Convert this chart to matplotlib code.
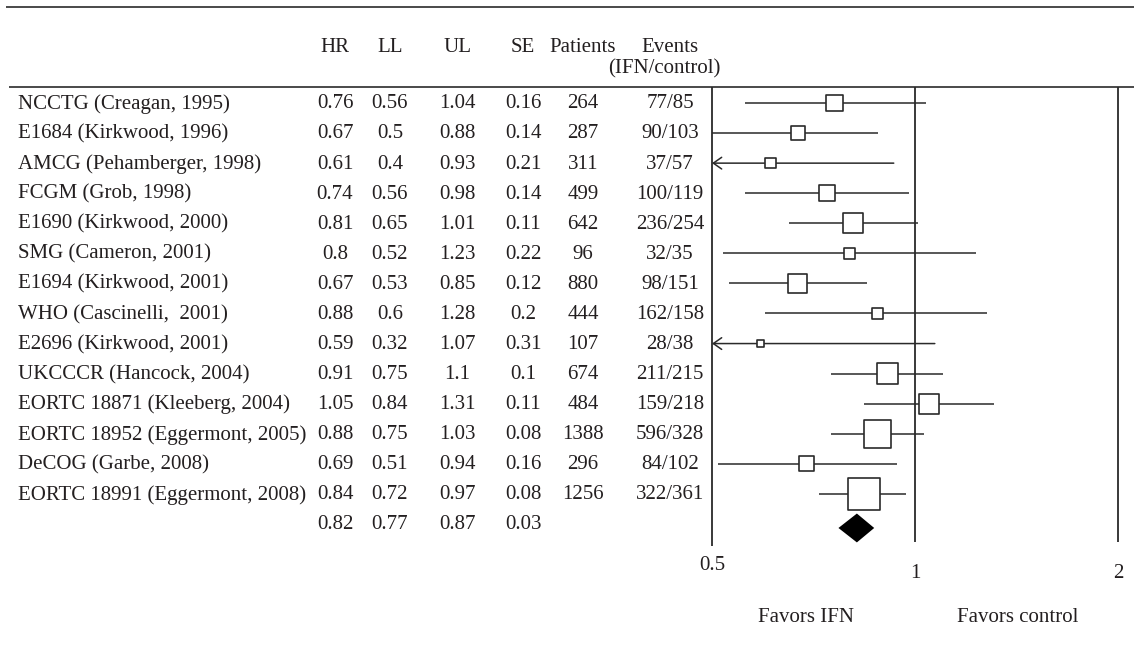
import matplotlib
matplotlib.use("Agg")
import matplotlib.pyplot as plt
import numpy as np

# study rows
studies = ["NCCTG (Creagan, 1995)", "E1684 (Kirkwood, 1996)", "AMCG (Pehamberger, 1998)",
           "FCGM (Grob, 1998)", "E1690 (Kirkwood, 2000)", "SMG (Cameron, 2001)",
           "E1694 (Kirkwood, 2001)", "WHO (Cascinelli,  2001)", "E2696 (Kirkwood, 2001)",
           "UKCCCR (Hancock, 2004)", "EORTC 18871 (Kleeberg, 2004)",
           "EORTC 18952 (Eggermont, 2005)", "DeCOG (Garbe, 2008)",
           "EORTC 18991 (Eggermont, 2008)"]
hr = [0.76, 0.67, 0.61, 0.74, 0.81, 0.8, 0.67, 0.88, 0.59, 0.91, 1.05, 0.88, 0.69, 0.84]
ll = [0.56, 0.5, 0.4, 0.56, 0.65, 0.52, 0.53, 0.6, 0.32, 0.75, 0.84, 0.75, 0.51, 0.72]
ul = [1.04, 0.88, 0.93, 0.98, 1.01, 1.23, 0.85, 1.28, 1.07, 1.1, 1.31, 1.03, 0.94, 0.97]
se = [0.16, 0.14, 0.21, 0.14, 0.11, 0.22, 0.12, 0.2, 0.31, 0.1, 0.11, 0.08, 0.16, 0.08]
patients = [264, 287, 311, 499, 642, 96, 880, 444, 107, 674, 484, 1388, 296, 1256]
events = ["77/85", "90/103", "37/57", "100/119", "236/254", "32/35", "98/151", "162/158",
          "28/38", "211/215", "159/218", "596/328", "84/102", "322/361"]
# relative box weight (largest = 100)
box_weight = [52, 45, 33, 50, 62, 33, 60, 36, 24, 66, 62, 86, 47, 100]

# pooled estimate
pooled_hr, pooled_ll, pooled_ul, pooled_se = 0.82, 0.77, 0.87, 0.03

headers = ["HR", "LL", "UL", "SE", "Patients", "Events"]
ticks = [0.5, 1, 2]
tick_labels = ["0.5", "1", "2"]

INK = "#231f20"
LINE = "#2a2a2a"
FS = 15
W, H = 1134, 650
plt.rcParams['font.family'] = ['Liberation Serif', 'DejaVu Serif']
plt.rcParams['text.color'] = INK

# pixel layout
ROW0, ROWH = 103, 30.07
def row_of(px):
    return (px - ROW0) / ROWH

X05, X2 = 712, 1118
PX_PER_LOG2 = (X2 - X05) / 2.0
AX_LEFT = 590

fig = plt.figure(figsize=(W / 100, H / 100), dpi=100)
ylim = (row_of(H), row_of(0))

# table axes (pixel x)
tab = fig.add_axes([0, 0, 1, 1])
tab.set_xlim(0, W)
tab.set_ylim(*ylim)
tab.axis('off')

# forest axes (log2 x)
ax = fig.add_axes([AX_LEFT / W, 0, 1 - AX_LEFT / W, 1])
ax.set_xscale('log', base=2)
lo = -1 - (X05 - AX_LEFT) / PX_PER_LOG2
hi = 1 + (W - X2) / PX_PER_LOG2
ax.set_xlim(2 ** lo, 2 ** hi)
ax.set_ylim(*ylim)
ax.axis('off')
ax.patch.set_alpha(0)

# rules
tab.hlines(row_of(7), 6, W, color=LINE, lw=1.2)
tab.hlines(row_of(87), 9, W, color=LINE, lw=1.2)

# header
col_x = [335, 390, 457, 523, 583, 670]
for x, h in zip(col_x, headers):
    tab.text(x, row_of(47), h, ha='center', va='center', fontsize=FS)
tab.text(664, row_of(69), "(IFN/control)", ha='center', va='center', fontsize=FS)

rows = np.arange(len(studies))
for i in rows:
    tab.text(18, i + 0.03, studies[i], ha='left', va='center', fontsize=FS)
    vals = ["%g" % hr[i], "%g" % ll[i], "%g" % ul[i], "%g" % se[i], str(patients[i]), events[i]]
    for x, v in zip(col_x, vals):
        tab.text(x, i + 0.03, v, ha='center', va='center', fontsize=FS)
pooled_row = len(studies)
for x, v in zip(col_x[:4], [pooled_hr, pooled_ll, pooled_ul, pooled_se]):
    tab.text(x, pooled_row + 0.03, "%.2f" % v, ha='center', va='center', fontsize=FS)

# reference lines
ax.vlines(0.5, row_of(87), row_of(546), color=LINE, lw=1.3)
ax.vlines([1, 2], row_of(87), row_of(542), color=LINE, lw=1.3)

# confidence intervals
xmin = ticks[0]
for i in rows:
    if ll[i] < xmin:
        ax.annotate('', xy=(xmin, i), xytext=(ul[i], i),
                    arrowprops=dict(arrowstyle='->,head_length=0.6,head_width=0.42',
                                    lw=1.1, color=LINE, shrinkA=0, shrinkB=0))
    else:
        ax.hlines(i, ll[i], ul[i], color=LINE, lw=1.1)

# boxes
sides_pt = np.array(box_weight) / 100 * 32 * 0.72
ax.scatter(hr, rows, s=sides_pt ** 2, marker='s', facecolor='white',
           edgecolor=LINE, linewidth=1.2, zorder=3)

# pooled diamond
h = 0.48
ax.fill([pooled_ll, pooled_hr, pooled_ul, pooled_hr],
        [pooled_row + row_of(528) - row_of(524)] * 4 + np.array([0, -h, 0, h]),
        color='black', lw=0, zorder=3)

# tick labels
tick_y = [row_of(565), row_of(573), row_of(573)]
for t, lab, ty in zip(ticks, tick_labels, tick_y):
    ax.text(t, ty, lab, ha='center', va='center', fontsize=FS)

ax.text(0.69, row_of(618), "Favors IFN", ha='center', va='center', fontsize=FS)
ax.text(1.42, row_of(618), "Favors control", ha='center', va='center', fontsize=FS)

fig.savefig("out.png", dpi=100)
